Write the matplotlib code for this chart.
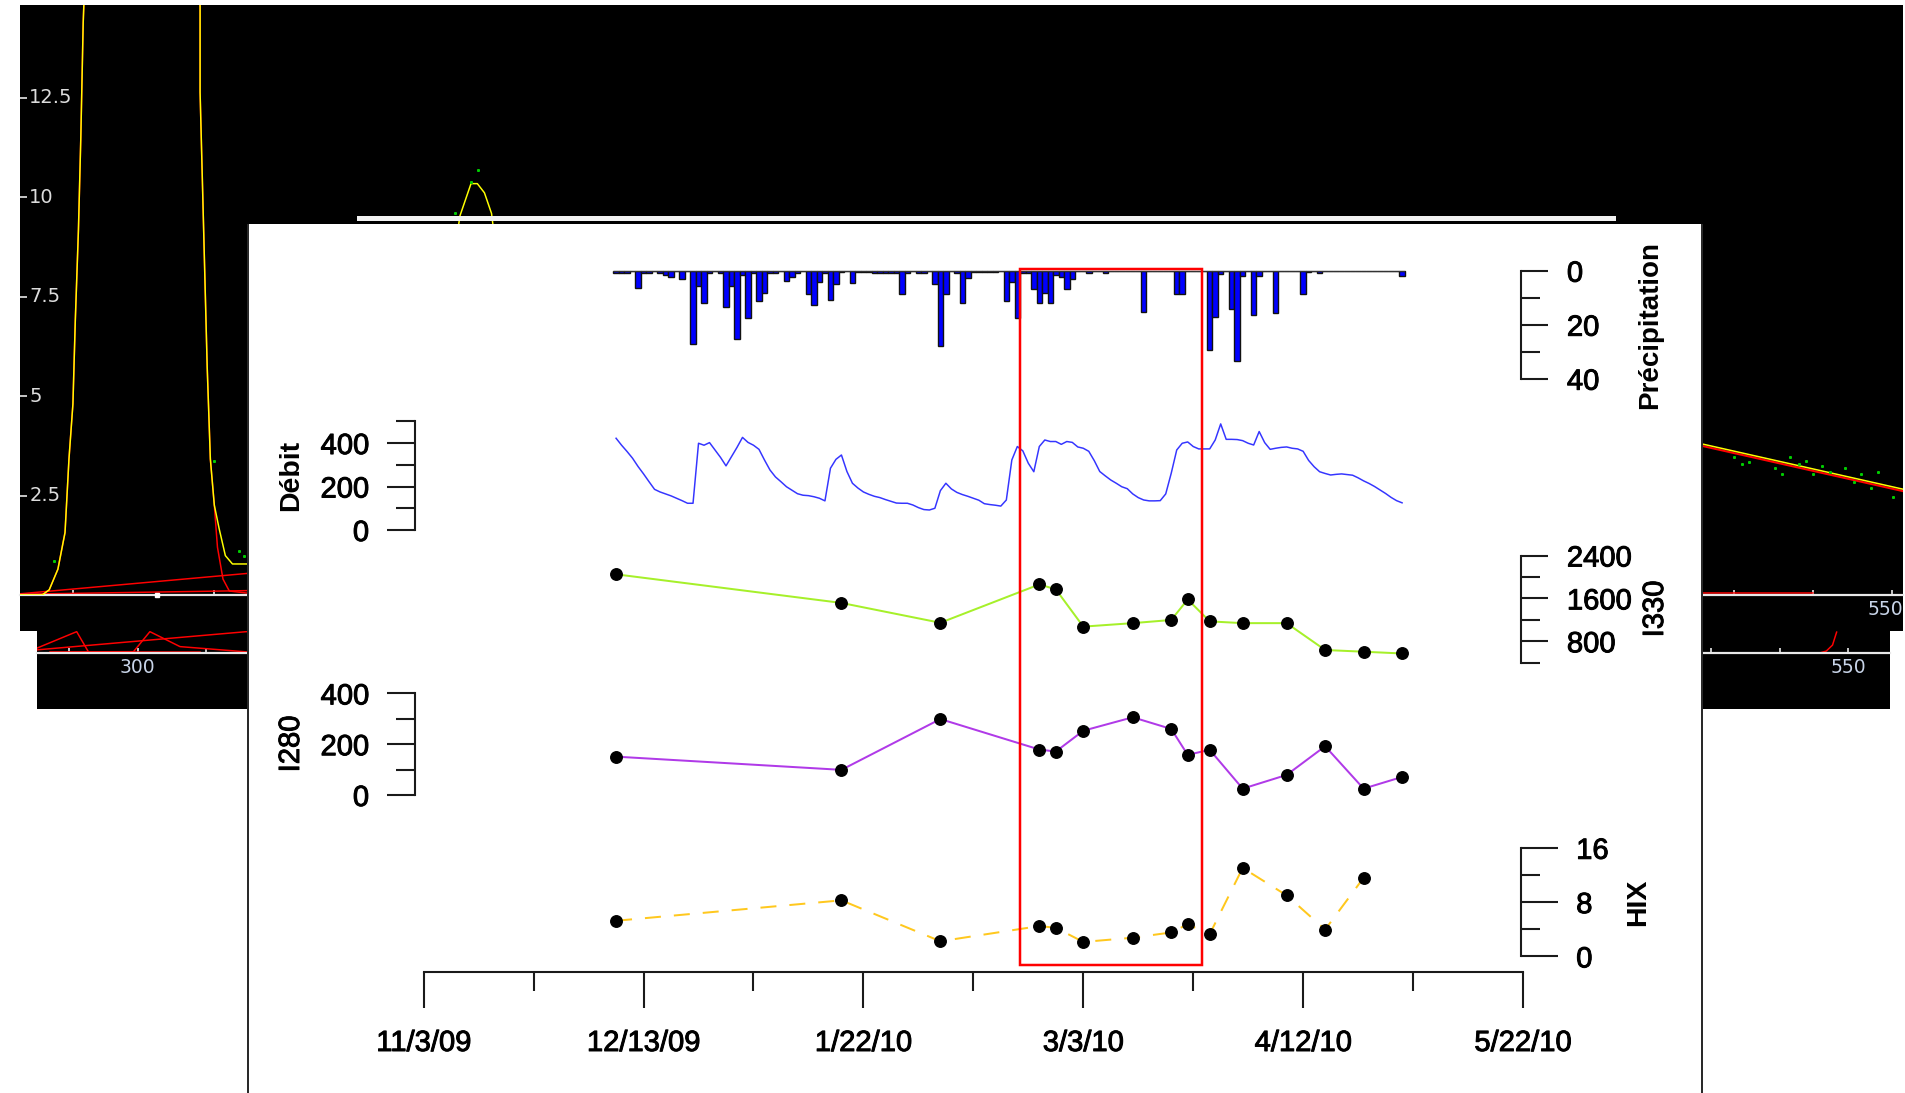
import matplotlib
matplotlib.use("Agg")
import matplotlib.pyplot as plt
import matplotlib.dates as mdates
import matplotlib.transforms as mtransforms
import matplotlib.patheffects as pe
from matplotlib.patches import Rectangle
from matplotlib.ticker import FixedLocator, NullFormatter, FixedFormatter, FuncFormatter
import pandas as pd

plt.rcParams['font.family'] = ['Liberation Sans', 'DejaVu Sans']

# ------------------------------------------------------------------ data
sample_dates = ['2009-12-08', '2010-01-18', '2010-02-05', '2010-02-23', '2010-02-26',
                '2010-03-03', '2010-03-12', '2010-03-19', '2010-03-22', '2010-03-26',
                '2010-04-01', '2010-04-09', '2010-04-16', '2010-04-23', '2010-04-30']
i330 = [2049, 1515, 1145, 1860, 1769, 1073, 1138, 1197, 1580, 1171, 1138, 1138, 637, 605, 572]
i280 = [151, 99, 299, 179, 171, 253, 306, 260, 158, 178, 25, 79, 192, 25, 71]
hix_dates = sample_dates[:14]
hix = [5.25, 8.26, 2.23, 4.47, 4.21, 2.13, 2.75, 3.53, 4.73, 3.27, 13.04, 8.99, 3.95, 11.58]

daily_start = '2009-12-08'
precipitation = [
    0.7, 0.7, 0.7, 0, 6.3, 0.7, 0.7, 0, 1.0, 1.6,
    2.5, 0, 3.2, 0, 27.0, 5.6, 11.9, 1.0, 0, 0.7,
    13.3, 5.7, 25.3, 1.6, 17.7, 0.7, 11.2, 8.1, 0.7, 0.7,
    0, 3.7, 2.5, 0.7, 0, 8.8, 12.7, 4.3, 0.7, 10.9,
    5.1, 0.4, 0, 4.4, 0.3, 0.3, 0.3, 0.7, 0.7, 0.7,
    0.7, 1.0, 8.8, 0.7, 0, 0.7, 0.7, 0, 5.1, 27.9,
    8.8, 0, 0.7, 11.9, 2.6, 0.4, 0.4, 0.4, 0.4, 0.4,
    0, 11.2, 4.1, 17.7, 1.0, 1.0, 6.9, 11.9, 8.1, 11.9,
    1.6, 2.2, 6.9, 3.2, 0, 0, 0.7, 0, 0, 0.7,
    0, 0, 0, 0, 0, 0, 15.2, 0, 0, 0,
    0, 0, 8.8, 8.8, 0, 0, 0, 0, 29.4, 17.0,
    1.2, 0, 14.0, 33.3, 1.9, 0, 16.4, 1.9, 0, 0,
    15.7, 0, 0, 0, 0, 8.8, 0.6, 0, 0.7, 0,
    0, 0, 0, 0, 0, 0, 0, 0, 0, 0,
    0, 0, 0, 2.0]
debit = [
    422, 390, 361, 330, 292, 258, 222, 187, 175, 166,
    157, 146, 135, 123, 123, 399, 390, 402, 368, 334,
    295, 338, 380, 426, 403, 390, 371, 322, 276, 244,
    222, 199, 183, 167, 160, 158, 153, 146, 134, 284,
    325, 345, 269, 215, 193, 175, 164, 155, 149, 140,
    132, 124, 123, 123, 115, 103, 94, 92, 100, 181,
    215, 189, 173, 163, 155, 146, 137, 121, 117, 114,
    110, 138, 322, 384, 364, 307, 268, 384, 414, 407,
    407, 394, 407, 403, 382, 376, 362, 319, 269, 249,
    230, 215, 199, 190, 166, 149, 138, 134, 134, 135,
    166, 261, 368, 399, 405, 384, 373, 373, 373, 414,
    488, 417, 417, 416, 411, 399, 391, 453, 402, 371,
    376, 380, 382, 376, 373, 362, 320, 291, 268, 260,
    253, 256, 258, 255, 252, 240, 226, 214, 200, 184,
    168, 150, 135, 125]

date_ticks = ['2009-11-03', '2009-12-13', '2010-01-22', '2010-03-03', '2010-04-12', '2010-05-22']
date_tick_labels = ['11/3/09', '12/13/09', '1/22/10', '3/3/10', '4/12/10', '5/22/10']
highlight_start = '2010-02-19 10:00'
highlight_end = '2010-03-24 14:00'

# background screenshot (spectra window behind the chart): wavelength / intensity
bg_y_ticks = [2.5, 5, 7.5, 10, 12.5]
bg_peak_nm = [313.0, 315.8, 316.7, 317.8, 318.7, 319.2, 319.7, 320.0, 320.4, 320.7, 321.0, 321.3,
              335.6, 335.8, 335.8, 336.1, 336.4, 336.7, 337.1, 337.6, 338.2, 339.0, 339.9, 342.5]
bg_peak_val = [0, 0, 0.13, 0.65, 1.57, 3.42, 4.8, 6.89, 9.19, 11.5, 14.38, 16,
               16, 14.78, 12.64, 10.34, 8.03, 5.73, 3.42, 2.26, 1.68, 0.99, 0.78, 0.78]
bg_peak_red_nm = bg_peak_nm[:20] + [338.0, 338.7, 339.5, 342.5]
bg_peak_red_val = bg_peak_val[:20] + [1.2, 0.4, 0.1, 0.03]
bg_bump_nm = [367.2, 368.7, 370.1, 370.9, 371.8, 372.7, 374.0]
bg_bump_val = [7.5, 9.53, 10.34, 10.34, 10.11, 9.59, 7.5]
bg_tail_nm = [525.0, 551.4]
bg_tail_val = [3.84, 2.66]
bg_green_nm = [317.3, 340.7, 341.4, 337.6, 368.1, 370.1, 371.0,
               530.0, 531.0, 531.9, 535.2, 536.1, 537.1, 538.2, 539.1, 540.0, 541.2,
               542.2, 544.0, 545.2, 546.1, 547.3, 548.2, 550.1]
bg_green_val = [0.85, 1.1, 0.99, 3.38, 9.59, 10.37, 10.69,
                3.46, 3.29, 3.34, 3.19, 3.05, 3.46, 3.29, 3.38, 3.05, 3.24,
                3.08, 3.19, 2.83, 3.05, 2.69, 3.10, 2.46]
strip_lines_nm = [[285.2, 291.1, 292.8], [285.2, 315.9], [287.2, 299.4, 301.8, 306.2, 318.0],
                  [295.5, 309.1], [545.8, 546.8, 547.7, 548.3]]
strip_lines_val = [[0.21, 0.97, 0.06], [0.14, 0.97], [0.05, 0.06, 0.97, 0.29, 0.0],
                   [0.06, 0.06], [0.0, 0.09, 0.36, 0.95]]

# ------------------------------------------------------------------ figure
W, H, DPI = 1905, 1093, 100
PT = 72.0 / DPI
fig = plt.figure(figsize=(W / DPI, H / DPI), dpi=DPI, facecolor='white')
THICK = [pe.withStroke(linewidth=0.7, foreground='black')]


def px_axes(x0, x1, ytop, ybot, z):
    ax = fig.add_axes([x0 / W, 1 - ybot / H, (x1 - x0) / W, (ybot - ytop) / H])
    ax.set_zorder(z)
    return ax


def px_rect(x0, x1, ytop, ybot, color, z):
    r = Rectangle((x0 / W, 1 - ybot / H), (x1 - x0) / W, (ybot - ytop) / H,
                  transform=fig.transFigure, facecolor=color, edgecolor='none', zorder=z)
    fig.add_artist(r)


# ---------------- background (black spectra window)
px_rect(20, 1903, 595, 631, 'black', 0.1)
px_rect(37, 1890, 631, 709, 'black', 0.1)

spec = px_axes(20, 1903, 5, 595, 0.2)
spec.set_facecolor('black')
spec.set_xlim(313.0, 551.4)
spec.set_ylim(0, 14.83)
for s in spec.spines.values():
    s.set_visible(False)
spec.spines['bottom'].set_visible(True)
spec.spines['bottom'].set_color('#e8e8e8')
spec.spines['bottom'].set_linewidth(2.2 * PT)
spec.plot(bg_peak_nm, bg_peak_val, color='yellow', lw=1.5 * PT, zorder=3)
spec.plot(bg_peak_red_nm, bg_peak_red_val, color='red', lw=1.5 * PT, zorder=2)
spec.plot(bg_bump_nm, bg_bump_val, color='yellow', lw=1.5 * PT, zorder=3)
spec.plot([313.0, 345.0], [0.03, 0.6], color='red', lw=1.5 * PT, zorder=2)
spec.plot([313.0, 345.0], [0.02, 0.12], color='red', lw=1.5 * PT, zorder=2)
spec.plot([525.5, 540.0], [0.05, 0.05], color='red', lw=1.5 * PT, zorder=2)
spec.plot(bg_tail_nm, [v - 0.05 for v in bg_tail_val], color='red', lw=2 * PT, zorder=2)
spec.plot(bg_tail_nm, bg_tail_val, color='yellow', lw=1.5 * PT, zorder=3)
spec.plot(bg_green_nm, bg_green_val, ls='none', marker='s', ms=1.6 * PT, color='#00cc00', zorder=4)
spec.plot([330.3], [0.0], ls='none', marker='s', ms=4 * PT, color='white', clip_on=False, zorder=5)
spec.xaxis.set_major_locator(FixedLocator([319.7, 337.6, 530, 540, 550]))
spec.tick_params(axis='x', direction='in', length=5 * PT, width=1.2, color='#e8e8e8',
                 labelbottom=False)
# right-most wavelength label of the partly hidden spectra plot
spec.text(1.0, -0.009, '550', transform=spec.transAxes, ha='right', va='top',
          color='#c8d4e8', fontsize=13.5, family='DejaVu Sans')
spec.yaxis.set_major_locator(FixedLocator(bg_y_ticks))
spec.tick_params(axis='y', direction='in', length=7 * PT, width=1.2, color='#e8e8e8',
                 labelleft=False)
ytrans = mtransforms.blended_transform_factory(spec.transAxes, spec.transData)
for v in bg_y_ticks:
    spec.text(0.0049, v, f'{v:g}', transform=ytrans, ha='left', va='center',
              color='#dcdcdc', fontsize=14, family='DejaVu Sans')

strip = px_axes(37, 1890, 631, 653, 0.2)
strip.set_facecolor('black')
strip.set_xlim(285.3, 556.1)
strip.set_ylim(0, 1)
for s in strip.spines.values():
    s.set_visible(False)
strip.spines['bottom'].set_visible(True)
strip.spines['bottom'].set_color('#e8e8e8')
strip.spines['bottom'].set_linewidth(2.2 * PT)
for xs, ys in zip(strip_lines_nm, strip_lines_val):
    strip.plot(xs, ys, color='red', lw=1.5 * PT)
strip.xaxis.set_major_locator(FixedLocator(list(range(290, 551, 10))))
strip.xaxis.set_major_formatter(FuncFormatter(lambda v, p: f'{v:g}' if v in (300, 550) else ''))
strip.tick_params(axis='x', direction='in', length=5 * PT, width=1.2, color='#e8e8e8',
                  labelcolor='#c8d4e8', labelsize=13.5, pad=5 * PT)
strip.tick_params(axis='y', left=False, labelleft=False)
for t in strip.get_xticklabels():
    t.set_family('DejaVu Sans')

# white title-bar strip and the white chart panel
px_rect(357, 1616, 215.5, 221, '#f2f2f2', 0.3)
px_rect(247, 1703, 224, 1093, '#2a2a2a', 0.4)
px_rect(249, 1701, 224, 1093, 'white', 0.45)

# ---------------- main chart
X0PX, X1PX = 423.7, 1523.0
tick_nums = [mdates.date2num(pd.Timestamp(d)) for d in date_ticks]
XMIN, XMAX = tick_nums[0], tick_nums[-1]
AXC = '#1a1a1a'
LBL = 21


def main_axes(ytop, ybot, ylim, side, major, minor, maj_len, min_len, pad, offset):
    ax = px_axes(X0PX, X1PX, ytop, ybot, 3)
    ax.patch.set_visible(False)
    ax.set_xlim(XMIN, XMAX)
    ax.set_ylim(*ylim)
    for s in ax.spines.values():
        s.set_visible(False)
    ax.tick_params(axis='x', which='both', bottom=False, top=False, labelbottom=False)
    sp = ax.spines[side]
    sp.set_visible(True)
    sp.set_position(('outward', offset * PT))
    sp.set_bounds(min(major + minor), max(major + minor))
    sp.set_linewidth(1.5)
    sp.set_color(AXC)
    if side == 'right':
        ax.yaxis.tick_right()
    else:
        ax.yaxis.tick_left()
    ax.yaxis.set_major_locator(FixedLocator(major))
    ax.yaxis.set_minor_locator(FixedLocator(minor))
    ax.yaxis.set_major_formatter(FuncFormatter(lambda v, p: f'{v:g}'))
    ax.yaxis.set_minor_formatter(NullFormatter())
    ax.tick_params(axis='y', which='major', length=maj_len * PT, width=1.5, color=AXC,
                   pad=pad * PT, labelsize=LBL)
    ax.tick_params(axis='y', which='minor', length=min_len * PT, width=1.5, color=AXC)
    for t in ax.get_yticklabels():
        t.set_path_effects(THICK)
    return ax


daily_dates = pd.date_range(daily_start, periods=len(precipitation), freq='D')
s_dates = pd.to_datetime(sample_dates)
h_dates = pd.to_datetime(hix_dates)

# precipitation (inverted, right axis)
axp = main_axes(270.7, 378.7, (40, 0), 'right', [0, 20, 40], [10, 30], 27, 18.6, 18.5, -1.6)
axp.bar(daily_dates, precipitation, width=1.0, color='#0000ff', edgecolor='#111111',
        linewidth=1.0, align='center', clip_on=False)
axp.plot([daily_dates[0] - pd.Timedelta(hours=12), daily_dates[-1] + pd.Timedelta(hours=12)],
         [0, 0], color='#333333', lw=1.6, solid_capstyle='butt')

# debit (left axis)
axq = main_axes(421.3, 530.0, (0, 500), 'left', [0, 200, 400], [100, 300, 500], 28, 19.4, 18, 8.7)
axq.plot(daily_dates, debit, color='#3535ff', lw=1.5 * PT)

# I330 (right axis)
ax3 = main_axes(555.5, 662.7, (400, 2400), 'right', [800, 1600, 2400], [400, 1200, 2000],
                27, 18.6, 18.5, -1.6)
ax3.plot(s_dates, i330, color='#a6f02a', lw=2 * PT, marker='o', ms=11.5 * PT,
         mfc='black', mec='black', clip_on=False)

# I280 (left axis)
ax2 = main_axes(693.4, 795.0, (0, 400), 'left', [0, 200, 400], [100, 300], 28, 19.4, 18, 8.7)
ax2.plot(s_dates, i280, color='#b03ae8', lw=2 * PT, marker='o', ms=11.5 * PT,
         mfc='black', mec='black', clip_on=False)

# HIX (right axis)
axh = main_axes(847.8, 956.4, (0, 16), 'right', [0, 8, 16], [4, 12], 37, 18.6, 17.8, -1.6)
axh.plot(h_dates, hix, color='#ffc81e', lw=2 * PT, ls=(0, (8, 6.5)), clip_on=False)
axh.plot(h_dates, hix, ls='none', marker='o', ms=11.5 * PT, mfc='black', mec='black',
         clip_on=False)

# date axis
axd = px_axes(X0PX, X1PX, 940, 972, 3)
axd.patch.set_visible(False)
axd.set_xlim(XMIN, XMAX)
for s in axd.spines.values():
    s.set_visible(False)
axd.spines['bottom'].set_visible(True)
axd.spines['bottom'].set_linewidth(1.5)
axd.spines['bottom'].set_color(AXC)
axd.xaxis.set_major_locator(FixedLocator(tick_nums))
axd.xaxis.set_major_formatter(FixedFormatter(date_tick_labels))
axd.xaxis.set_minor_locator(FixedLocator([(a + b) / 2 for a, b in zip(tick_nums[:-1], tick_nums[1:])]))
axd.tick_params(axis='x', which='major', length=36 * PT, width=1.5, color=AXC,
                pad=21 * PT, labelsize=LBL)
axd.tick_params(axis='x', which='minor', length=19 * PT, width=1.5, color=AXC)
axd.tick_params(axis='y', left=False, labelleft=False)
for t in axd.get_xticklabels():
    t.set_path_effects(THICK)

# highlighted period
btrans = mtransforms.blended_transform_factory(axd.transData, fig.transFigure)
hs = mdates.date2num(pd.Timestamp(highlight_start))
he = mdates.date2num(pd.Timestamp(highlight_end))
box = Rectangle((hs, 1 - 965 / H), he - hs, (965 - 269) / H, transform=btrans,
                fill=False, edgecolor='#ff0000', lw=2.5 * PT, zorder=6)
fig.add_artist(box)

# axis titles
fig.text(291 / W, 1 - 475.6 / H, 'Débit', rotation=90, ha='center', va='center',
         fontsize=20.5, fontweight='bold', zorder=7)
fig.text(291 / W, 1 - 744 / H, 'I280', rotation=90, ha='center', va='center',
         fontsize=21, zorder=7, path_effects=THICK)
fig.text(1650 / W, 1 - 324.7 / H, 'Précipitation', rotation=90, ha='center', va='center',
         fontsize=20, fontweight='bold', zorder=7)
fig.text(1655 / W, 1 - 609 / H, 'I330', rotation=90, ha='center', va='center',
         fontsize=21, zorder=7, path_effects=THICK)
fig.text(1638 / W, 1 - 902 / H, 'HIX', rotation=90, ha='center', va='center',
         fontsize=20.5, fontweight='bold', zorder=7)

fig.savefig('out.png', dpi=DPI, facecolor='white')
